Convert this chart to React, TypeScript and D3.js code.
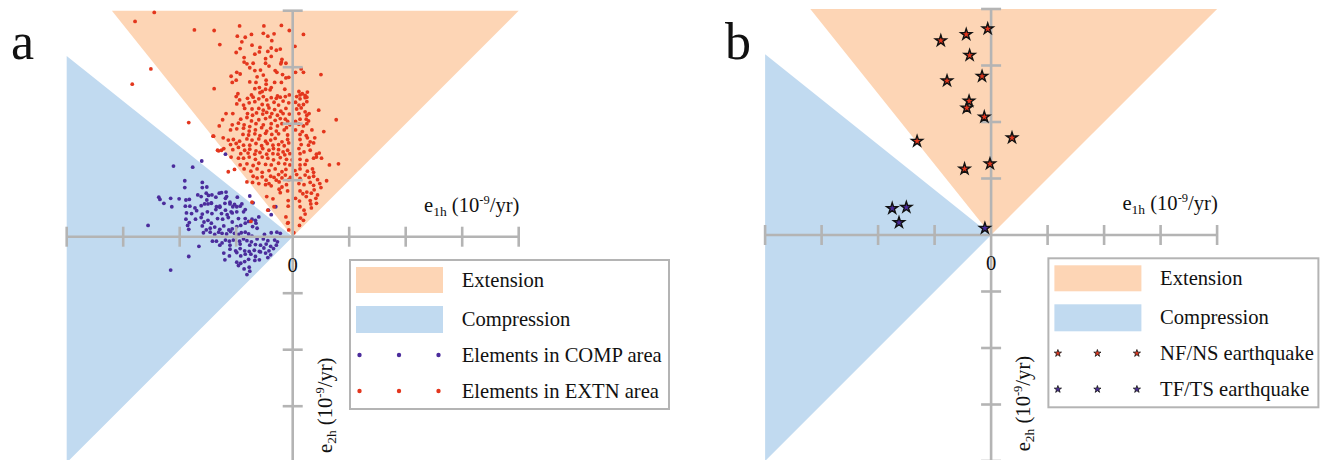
import React from 'react';
import * as d3 from 'd3';

// Strain-rate axes (10^-9/yr), one unit per tick
const axisTicks = [-4, -3, -2, -1, 1, 2, 3, 4];
const axisExtent = 4;
// Steeper bound of the extension / compression wedges
const wedgeEdge = 3.2;

// Principal strain-rate elements falling in the extension wedge [e1h, -e2h]
const extnPoints: [number, number][] = [
  [-1.39,3.65],[-0.94,3.73],[-0.51,3.73],[-0.20,3.74],[-0.06,3.65],[0.19,3.58],[-0.98,3.55],[-0.84,3.53],[-0.73,3.58],[-0.52,3.60],
  [-0.44,3.55],[-0.33,3.59],[-0.37,3.47],[-1.29,3.40],[-0.90,3.45],[-0.72,3.39],[-0.58,3.35],[-0.38,3.34],[-0.22,3.32],[0.04,3.37],
  [-1.00,3.26],[-0.93,3.33],[-0.67,3.23],[-0.59,3.27],[-0.44,3.28],[-0.29,3.30],[-0.86,3.17],[-0.48,3.15],[-0.38,3.19],[-0.19,3.14],
  [-0.86,3.09],[-0.81,3.06],[-0.70,3.07],[-0.48,3.07],[-0.20,3.09],[-0.12,3.07],[-0.76,2.99],[-0.42,3.02],[-0.21,3.06],[-0.67,2.94],
  [-0.57,2.95],[-0.31,2.94],[-0.28,2.91],[0.05,2.91],[0.19,2.91],[0.15,2.97],[0.50,2.87],[-1.09,2.84],[-0.99,2.91],[-0.93,2.88],
  [-0.63,2.83],[-0.52,2.86],[-0.18,2.87],[-0.12,2.81],[-0.07,2.82],[-1.00,2.77],[-0.76,2.74],[-0.65,2.73],[-0.47,2.77],[-1.07,2.73],
  [-0.32,2.73],[-0.20,2.73],[-0.47,2.70],[-1.39,2.62],[-0.67,2.62],[-0.59,2.64],[-0.48,2.61],[-0.38,2.64],[-0.14,2.61],[0.11,2.57],
  [0.26,2.56],[-0.97,2.53],[-0.73,2.51],[-0.58,2.55],[-0.54,2.57],[-0.40,2.60],[-0.27,2.49],[-0.06,2.51],[0.13,2.51],[0.17,2.53],
  [0.22,2.50],[0.25,2.47],
  [-2.79,3.81],[-2.45,3.97],[-2.51,2.97],[-2.84,2.70],[-1.74,3.66],[-1.84,2.02],[-1.41,1.78],[-1.31,1.52],[-1.14,1.15],[-0.81,0.97],
  [-0.72,0.61],[-0.44,0.47],[-0.33,0.53],[-0.46,0.71],[-0.08,0.25],[-0.74,0.27],[0.77,2.07],[0.81,1.29],[0.60,0.99],[-1.33,1.53],
  [-1.26,1.53],
  [-1.00,2.48],[-0.94,2.42],[-0.80,2.45],[-0.70,2.47],[-0.60,2.44],[-0.52,2.48],[-0.46,2.42],[-0.38,2.46],[-0.29,2.45],[-0.22,2.47],
  [-0.13,2.48],[0.07,2.48],[0.13,2.44],[0.22,2.46],[0.25,2.39],[-0.99,2.35],[-0.87,2.33],[-0.77,2.37],[-0.67,2.39],[-0.54,2.34],
  [-0.44,2.33],[-0.33,2.38],[-0.25,2.33],[-0.17,2.40],[-0.07,2.37],[0.05,2.38],[0.11,2.33],[0.19,2.34],[-0.85,2.27],
  [-0.72,2.26],[-0.60,2.27],[-0.52,2.24],[-0.42,2.28],[-0.32,2.25],[-0.21,2.22],[-0.12,2.27],[0.07,2.26],[0.15,2.28],[0.22,2.21],
  [0.46,2.24],[-1.18,2.18],[-1.06,2.18],[-0.80,2.18],[-0.71,2.15],[-0.64,2.19],[-0.53,2.17],[-0.46,2.20],[-0.37,2.18],[-0.27,2.15],
  [-0.17,2.18],[-0.06,2.17],[0.11,2.18],[0.25,2.15],[0.29,2.18],
  [-1.24,2.07],[-0.92,2.08],[-0.81,2.11],[-0.73,2.05],[-0.60,2.07],[-0.48,2.09],[-0.40,2.12],[-0.31,2.06],[-0.22,2.09],[-0.13,2.08],
  [-0.09,2.04],[0.05,2.04],[0.13,2.08],[0.24,2.08],[0.28,2.05],[-1.30,1.96],[-1.07,1.98],[-0.96,2.01],[-0.86,1.98],[-0.76,1.95],
  [-0.65,2.00],[-0.52,1.98],[-0.38,2.00],[-0.27,1.96],[-0.19,2.00],[-0.05,1.98],[0.11,1.99],[0.19,1.96],[0.25,2.00],
  [-1.10,1.89],[-0.99,1.91],[-0.87,1.92],[-0.77,1.87],[-0.66,1.89],[-0.55,1.93],[-0.46,1.87],[-0.39,1.92],[-0.29,1.87],[-0.15,1.89],
  [-0.11,1.93],[0.05,1.89],[0.17,1.86],[0.34,1.89],[0.55,1.86],[-0.88,1.81],[-0.78,1.80],[-0.67,1.82],[-0.58,1.79],[-0.48,1.83],
  [-0.37,1.81],[-0.25,1.82],[-0.09,1.80],[0.13,1.81],[0.24,1.79],
  [-1.40,1.78],[-1.23,1.75],[-1.14,1.71],[-1.05,1.72],[-0.94,1.69],[-0.81,1.73],[-0.72,1.71],[-0.60,1.73],[-0.48,1.69],[-0.39,1.71],
  [-0.31,1.74],[-0.19,1.68],[-0.09,1.72],[0.13,1.72],[0.26,1.75],[0.31,1.68],[0.39,1.75],[-1.10,1.63],[-1.00,1.65],[-0.87,1.62],
  [-0.76,1.62],[-0.65,1.65],[-0.55,1.61],[-0.45,1.65],[-0.35,1.62],[-0.25,1.63],[-0.15,1.61],[-0.07,1.66],[0.15,1.63],[0.28,1.62],
  [0.37,1.66],
  [-1.22,1.56],[-1.06,1.54],[-0.96,1.58],[-0.85,1.53],[-0.76,1.55],[-0.65,1.52],[-0.53,1.56],[-0.42,1.53],[-0.34,1.56],[-0.25,1.54],
  [-0.17,1.50],[-0.09,1.53],[0.11,1.56],[0.20,1.50],[0.31,1.53],[0.42,1.46],[-0.92,1.47],[-0.79,1.48],[-0.67,1.46],[-0.58,1.49],
  [-0.46,1.46],[-0.35,1.47],[-0.26,1.46],[-0.14,1.45],[-0.05,1.47],[0.13,1.47],[0.47,1.48],[0.51,1.39],
  [-1.09,1.41],[-0.96,1.39],[-0.87,1.39],[-0.77,1.41],[-0.66,1.37],[-0.54,1.41],[-0.44,1.39],[-0.34,1.36],[-0.22,1.40],[-0.11,1.37],
  [-0.01,1.36],[0.13,1.37],[0.25,1.35],[0.37,1.39],[0.42,1.41],[-0.93,1.27],[-0.81,1.29],[-0.70,1.26],[-0.60,1.30],[-0.48,1.28],
  [-0.38,1.27],[-0.25,1.30],[-0.14,1.29],[-0.05,1.27],[0.13,1.27],[0.22,1.28],[0.65,1.27],
  [-1.03,1.19],[-0.86,1.20],[-0.74,1.16],[-0.63,1.20],[-0.54,1.14],[-0.42,1.17],[-0.31,1.20],[-0.19,1.15],[-0.12,1.19],[0.04,1.17],
  [0.13,1.20],[0.26,1.16],[0.37,1.14],[0.35,1.20],
  [-0.70,1.07],[-0.63,1.04],[-0.54,1.06],[-0.47,1.00],[-0.39,1.07],[-0.33,1.05],[-0.29,1.00],[-0.25,1.10],[-0.19,1.04],[-0.13,1.09],
  [-0.07,1.01],[-0.04,1.05],[0.07,1.10],[0.13,1.03],[0.22,1.09],[0.29,1.05],[0.37,1.07],[0.44,1.01],[-0.71,0.96],[-0.60,0.94],
  [-0.48,0.92],[-0.42,0.94],[-0.38,0.90],[-0.24,0.97],[-0.19,0.88],[-0.11,0.92],[0.11,0.94],[0.20,0.92],[0.31,0.96],[0.37,0.91],
  [0.48,0.94],[0.50,0.87],[-0.24,0.84],[-0.22,0.78],[-0.09,0.81],[0.13,0.81],[0.18,0.76],[0.25,0.79],[0.33,0.77],[0.38,0.83],
  [0.44,0.74],[-0.35,0.67],[-0.08,0.64],[0.05,0.68],[0.12,0.63],[0.24,0.71],[0.31,0.64],[0.41,0.68],[0.42,0.59],[0.32,0.58],
  [-0.08,0.54],[0.13,0.53],[0.20,0.47],[0.22,0.40],[0.33,0.51],[-0.12,0.35],[-0.09,0.24],[0.14,0.33],[0.19,0.29],[-0.07,0.12],
  [0.02,0.07],[0.12,0.20],
];

// Elements falling in the compression wedge
const compPoints: [number, number][] = [
  [-1.91,0.99],[-1.60,0.96],[-1.60,0.87],[-1.91,0.87],[-2.37,0.70],[-2.35,0.66],[-2.28,0.59],[-2.16,0.68],[-2.01,0.67],[-1.89,0.65],
  [-1.83,0.66],[-1.68,0.74],[-1.62,0.71],[-1.53,0.77],[-1.49,0.73],[-1.43,0.74],[-1.30,0.77],[-1.17,0.71],[-1.18,0.79],[-0.98,0.70],
  [-0.76,0.72],[-0.70,0.60],[-2.14,0.53],[-1.90,0.54],[-1.82,0.54],[-1.73,0.51],[-1.62,0.55],[-1.56,0.58],[-1.50,0.58],[-1.44,0.59],
  [-1.35,0.53],[-1.29,0.54],[-1.20,0.59],[-1.11,0.58],[-1.06,0.53],[-0.93,0.54],[-1.88,0.42],[-1.79,0.41],[-1.70,0.46],[-1.60,0.40],
  [-1.51,0.44],[-1.43,0.41],[-1.36,0.48],[-1.26,0.41],[-1.16,0.39],[-1.09,0.44],[-0.99,0.44],[-0.87,0.44],[-0.84,0.48],[-0.38,0.39],
  [-1.89,0.31],[-1.83,0.25],[-1.72,0.31],[-1.62,0.34],[-1.57,0.26],[-1.50,0.29],[-1.44,0.24],[-1.33,0.32],[-1.24,0.31],[-1.14,0.34],
  [-1.07,0.26],[-0.96,0.32],[-0.84,0.32],[-0.78,0.27],[-0.72,0.31],[-0.66,0.29],[-2.56,0.20],[-1.86,0.20],[-1.84,0.13],[-1.60,0.19],
  [-1.53,0.12],[-1.46,0.15],[-1.38,0.17],[-1.29,0.13],[-1.22,0.19],[-1.13,0.12],[-1.07,0.14],[-0.99,0.18],[-0.92,0.20],[-0.84,0.24],
  [-0.71,0.18],[-0.65,0.24],[-0.63,0.15],[-1.58,0.07],[-1.46,0.08],[-1.38,0.04],[-1.31,0.08],[-1.25,0.06],[-1.17,0.05],[-1.10,0.09],
  [-1.03,0.06],[-0.96,0.04],[-0.91,0.07],[-0.84,0.08],[-0.78,0.05],[-0.72,0.01],[-0.50,0.04],[-0.38,0.07],[-0.28,0.08],[-0.22,0.06],
  [-1.42,-0.08],[-1.35,-0.08],[-1.25,-0.11],[-1.19,-0.06],[-1.12,-0.08],[-1.05,-0.06],[-0.94,-0.08],[-0.87,-0.04],[-0.81,-0.07],[-0.73,-0.09],
  [-0.63,-0.04],[-0.52,-0.04],[-0.44,-0.07],[-0.32,-0.06],[-0.27,-0.09],[-1.66,-0.17],[-1.29,-0.15],[-1.11,-0.15],[-0.93,-0.13],[-0.76,-0.15],
  [-0.66,-0.14],[-0.57,-0.15],[-0.47,-0.13],[-0.39,-0.17],[-0.29,-0.15],[-1.11,-0.22],[-1.01,-0.25],[-0.93,-0.21],[-0.85,-0.25],[-0.77,-0.26],
  [-0.68,-0.24],[-0.59,-0.26],[-0.51,-0.20],[-0.42,-0.25],[-0.34,-0.21],[-1.22,-0.29],[-1.12,-0.34],[-0.99,-0.28],[-0.92,-0.34],[-0.84,-0.31],
  [-0.74,-0.31],[-0.66,-0.35],[-0.57,-0.27],[-0.48,-0.29],[-0.39,-0.32],[-0.44,-0.37],[-1.84,-0.35],[-1.20,-0.41],[-0.99,-0.45],[-0.92,-0.47],
  [-0.85,-0.44],[-0.78,-0.40],[-0.67,-0.42],[-0.59,-0.41],[-0.96,-0.51],[-0.77,-0.54],[-0.86,-0.57],[-0.76,-0.61],[-2.16,-0.59],[-0.81,-0.67],
  [-2.11,1.25],[-1.77,1.23],[-1.61,1.34],[-1.19,1.46],[-0.43,0.47],[-0.30,0.53],
  [-1.52,0.88],[-1.36,0.70],[-1.26,0.78],[-1.19,0.68],[-1.11,0.61],[-1.03,0.57],[-1.52,0.65],[-1.44,0.60],[-1.29,0.52],[-1.19,0.47],
  [-1.07,0.42],[-0.99,0.53],[-0.90,0.58],[-0.60,0.35],
];

// Focal mechanisms: normal faulting / normal-strike and thrust faulting / thrust-strike events
const nfQuakes: [number, number][] = [
  [-0.06,3.65],[-0.44,3.55],[-0.89,3.44],[-0.38,3.18],[-0.16,2.81],[-0.78,2.73],[-0.39,2.37],[-0.43,2.25],
  [-0.12,2.09],[0.37,1.72],[-1.31,1.66],[-0.02,1.26],[-0.47,1.17],
];
const tfQuakes: [number, number][] = [
  [-1.75,0.47],[-1.50,0.49],[-1.63,0.22],[-0.11,0.12],
];

const regionLabels = ['Extension', 'Compression'];
const pointLabelsA = ['Elements in COMP area', 'Elements in EXTN area'];
const pointLabelsB = ['NF/NS earthquake', 'TF/TS earthquake'];

const ORANGE = '#fdd5b5';
const BLUE = '#c1daf0';
const GREY = '#b4b4b4';
const RED = '#e3361d';
const PURPLE = '#4b2c9c';
const FONT = '"Liberation Serif", "Times New Roman", serif';
const TEXT_SIZE = 20.6;

const x = d3.scaleLinear().domain([-axisExtent, axisExtent]).range([66.7, 518.7]);
const y = d3.scaleLinear().domain([-axisExtent, axisExtent]).range([462.7, 10.7]);

const poly = (pts: [number, number][]) => pts.map(([a, b]) => `${x(a)},${y(b)}`).join(' ');

const starPath = d3.symbol().type(d3.symbolStar).size(38)() as string;
const starPathSmall = d3.symbol().type(d3.symbolStar).size(16)() as string;

function Regions() {
  return (
    <g>
      <polygon points={poly([[0, 0], [axisExtent, axisExtent], [-wedgeEdge, axisExtent]])} fill={ORANGE} />
      <polygon points={poly([[0, 0], [-axisExtent, wedgeEdge], [-axisExtent, -axisExtent]])} fill={BLUE} />
    </g>
  );
}

function Axes() {
  const x0 = x(0);
  const y0 = y(0);
  return (
    <g stroke={GREY} strokeWidth={2.6} fill="none">
      <line x1={x(-axisExtent)} x2={x(axisExtent)} y1={y0} y2={y0} />
      <line x1={x0} x2={x0} y1={y(axisExtent)} y2={y(-axisExtent)} />
      {axisTicks.map((t) => (
        <line key={'xt' + t} x1={x(t)} x2={x(t)} y1={y0 - 10} y2={y0 + 10} />
      ))}
      {axisTicks.map((t) => (
        <line key={'yt' + t} x1={x0 - 10} x2={x0 + 10} y1={y(t)} y2={y(t)} />
      ))}
    </g>
  );
}

function AxisLabels() {
  return (
    <g fontFamily={FONT} fill="#111">
      <text x={x(0)} y={272} fontSize={TEXT_SIZE} textAnchor="middle">0</text>
      <text x={424} y={211.5} fontSize={TEXT_SIZE}>
        e<tspan fontSize={13.5} dy={4}>1h</tspan>
        <tspan dy={-4}> (10</tspan>
        <tspan fontSize={12.5} dy={-8}>-9</tspan>
        <tspan dy={8}>/yr)</tspan>
      </text>
      <text transform="translate(332,453) rotate(-90)" fontSize={TEXT_SIZE}>
        e<tspan fontSize={13.5} dy={4}>2h</tspan>
        <tspan dy={-4}> (10</tspan>
        <tspan fontSize={12.5} dy={-8}>-9</tspan>
        <tspan dy={8}>/yr)</tspan>
      </text>
    </g>
  );
}

type MarkerFn = (color: string, cx: number, cy: number, key: string) => React.ReactNode;

function Legend({ width, labels, colors, marker }: { width: number; labels: string[]; colors: string[]; marker: MarkerFn }) {
  const left = 350;
  const top = 260;
  const markerX = [359.5, 399, 438.5];
  const rows = [280, 319.5, 355, 391];
  return (
    <g fontFamily={FONT} fontSize={TEXT_SIZE} fill="#111">
      <rect x={left} y={top} width={width} height={149} fill="#fff" stroke={GREY} strokeWidth={2} />
      <rect x={356} y={267} width={87} height={26} fill={ORANGE} />
      <rect x={356} y={306} width={87} height={27} fill={BLUE} />
      <text x={461.7} y={rows[0] + 7}>{regionLabels[0]}</text>
      <text x={461.7} y={rows[1] + 6.5}>{regionLabels[1]}</text>
      {labels.map((lab, i) => (
        <g key={lab}>
          {markerX.map((mx, j) => marker(colors[i], mx, rows[2 + i], lab + j))}
          <text x={461.7} y={rows[2 + i] + 7}>{lab}</text>
        </g>
      ))}
    </g>
  );
}

function PanelA() {
  return (
    <g>
      <Regions />
      <g>
        {compPoints.map(([a, b], i) => (
          <circle key={'c' + i} cx={x(a)} cy={y(b)} r={1.9} fill={PURPLE} />
        ))}
        {extnPoints.map(([a, b], i) => (
          <circle key={'e' + i} cx={x(a)} cy={y(b)} r={1.9} fill={RED} />
        ))}
      </g>
      <Axes />
      <AxisLabels />
      <Legend
        width={319}
        labels={pointLabelsA}
        colors={[PURPLE, RED]}
        marker={(c, cx, cy, k) => <circle key={k} cx={cx} cy={cy} r={2.2} fill={c} />}
      />
      <text x={11} y={59} fontFamily={FONT} fontSize={52} fill="#111">a</text>
    </g>
  );
}

function PanelB() {
  return (
    <g transform="translate(698.4,-1.7)">
      <Regions />
      <Axes />
      <g stroke="#111" strokeWidth={1.4} strokeLinejoin="miter">
        {nfQuakes.map(([a, b], i) => (
          <path key={'n' + i} d={starPath} transform={`translate(${x(a)},${y(b)})`} fill={RED} />
        ))}
        {tfQuakes.map(([a, b], i) => (
          <path key={'t' + i} d={starPath} transform={`translate(${x(a)},${y(b)})`} fill={PURPLE} />
        ))}
      </g>
      <AxisLabels />
      <Legend
        width={270}
        labels={pointLabelsB}
        colors={[RED, PURPLE]}
        marker={(c, cx, cy, k) => (
          <path key={k} d={starPathSmall} transform={`translate(${cx},${cy})`} fill={c} stroke="#111" strokeWidth={0.8} />
        )}
      />
      <text x={26.6} y={60.7} fontFamily={FONT} fontSize={52} fill="#111">b</text>
    </g>
  );
}

export default function App() {
  return (
    <svg
      width={1320}
      height={460}
      viewBox="0 0 1320 460"
      style={{ position: 'absolute', left: 0, top: 0, background: '#fff' }}
    >
      <rect width={1320} height={460} fill="#fff" />
      <PanelA />
      <PanelB />
    </svg>
  );
}
